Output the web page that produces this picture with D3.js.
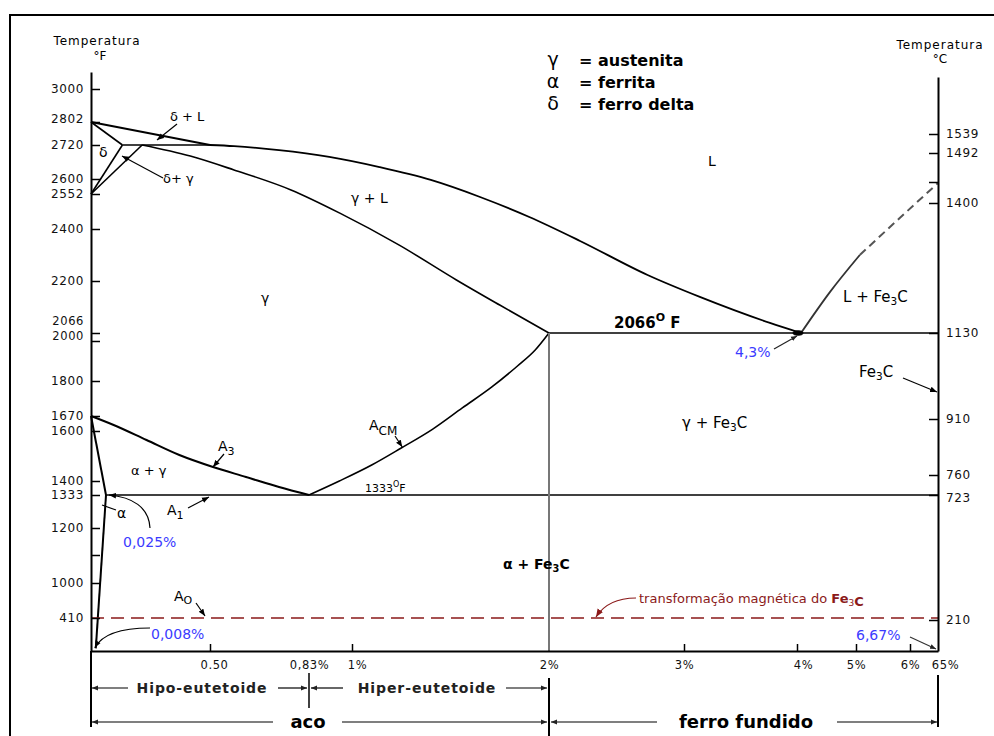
<!DOCTYPE html>
<html>
<head>
<meta charset="utf-8">
<script src="https://cdn.jsdelivr.net/npm/d3@7"></script>
<style>
  body { margin: 0; background: #fff; }
  svg { display: block; }
  text { font-family: "DejaVu Sans", sans-serif; }
</style>
</head>
<body>
<script>
// ---- Fe–Fe3C phase diagram: carbon content (% C) vs temperature (°F) ----

// Axis ticks
const leftTicksF      = [3000, 2802, 2720, 2600, 2552, 2400, 2200, 2066, 2000, 1800, 1670, 1600, 1400, 1333, 1200, 1100, 1000, 410];
const leftTickLabels  = ["3000","2802","2720","2600","2552","2400","2200","2066","2000","1800","1670","1600","1400","1333","1200","","1000","410"];
const rightTicksC     = [1539, 1492, 1440, 1400, 1130, 910, 760, 723, 210];
const rightTickLabels = ["1539","1492","","1400","1130","910","760","723","210"];
const carbonTicks     = [0.5, 0.83, 1, 2, 3, 4, 5, 6, 6.67];
const carbonTickLabels= ["0.50","0,83%","1%","2%","3%","4%","5%","6%","65%"];

// Delta-iron corner
const deltaLiquidusC = [0, 0.5],    deltaLiquidusF = [2802, 2720];
const deltaSolidusC  = [0, 0.1],    deltaSolidusF  = [2802, 2720];
const deltaGammaC    = [0.1, 0],    deltaGammaF    = [2720, 2552];
const gammaDeltaC    = [0.19, 0],   gammaDeltaF    = [2720, 2552];
const peritecticC    = [0.1, 0.5],  peritecticF    = [2720, 2720];

// Liquidus (austenite side) down to the eutectic
const liquidusC = [0.5, 0.58, 0.73, 0.91, 1.14, 1.4, 1.65, 1.9, 2.23, 2.73, 3.14, 3.76, 4.3];
const liquidusF = [2720, 2716, 2702, 2678, 2642, 2597, 2539, 2452, 2354, 2223, 2159, 2092, 2066];

// Solidus of austenite
const solidusC = [0.19, 0.41, 0.58, 0.77, 0.95, 1.24, 1.53, 1.75, 2.0];
const solidusF = [2720, 2681, 2632, 2565, 2470, 2338, 2204, 2138, 2066];

// Liquidus on the cementite side (solid part, then the uncertain dashed part)
const cementiteLiqC = [4.3, 4.67, 5.07],  cementiteLiqF = [2066, 2172, 2300];
const cementiteDashC = [5.07, 5.81, 6.67], cementiteDashF = [2300, 2448, 2587];

// Solid-state transformation lines
const a3C  = [0, 0.06, 0.21, 0.36, 0.51, 0.62, 0.73, 0.83];
const a3F  = [1670, 1628, 1564, 1504, 1456, 1416, 1371, 1333];
const acmC = [0.83, 0.95, 1.1, 1.25, 1.41, 1.56, 1.71, 1.84, 1.93, 2.0];
const acmF = [1333, 1400, 1464, 1532, 1609, 1700, 1778, 1875, 1955, 2066];
const ferriteC = [0, 0.025],      ferriteF = [1670, 1333];
const solvusC  = [0.025, 0.008],  solvusF  = [1333, 32];

// Invariant temperatures
const eutecticF = 2066, eutectoidF = 1333, curieF = 410;
const eutecticC = 4.3, eutectoidC = 0.83, maxCarbonC = 6.67, steelLimitC = 2;

const zip = (a, b) => a.map((v, i) => [v, b[i]]);

// ---- scales (the original diagram uses a stretched, non-uniform grid) ----
const x = d3.scaleLinear()
  .domain([0, 0.025, 0.5, 0.83, 1, 2, 3, 4, 4.3, 5, 6, 6.67])
  .range([91, 106, 210, 309, 352, 549, 684, 797, 801, 856, 910, 938]);

const y = d3.scaleLinear()
  .domain([3100, 3000, 2802, 2720, 2600, 2552, 2400, 2200, 2066, 2000, 1800, 1670, 1600, 1400, 1333, 1200, 1100, 1000, 410, 0])
  .range([72, 89, 122, 145, 179, 194, 229, 281, 333, 341, 381, 416, 431, 481, 495, 528, 555, 583, 618, 651]);

const yC = d3.scaleLinear()
  .domain([1700, 1539, 1492, 1440, 1400, 1130, 910, 760, 723, 210, 0])
  .range([77, 134, 153, 182, 203, 333, 419, 475, 495, 620, 651]);

const svg = d3.select("body").append("svg").attr("width", 994).attr("height", 736);

// frame (runs past the right and bottom edges of the page)
svg.append("rect").attr("x", 10).attr("y", 15).attr("width", 1000).attr("height", 740)
  .attr("fill", "none").attr("stroke", "#000").attr("stroke-width", 2);

// arrow markers
const defs = svg.append("defs");
function marker(id, color, size) {
  defs.append("marker").attr("id", id)
    .attr("viewBox", "0 0 8 8").attr("refX", 8).attr("refY", 4)
    .attr("markerWidth", size).attr("markerHeight", size)
    .attr("markerUnits", "userSpaceOnUse").attr("orient", "auto-start-reverse")
    .append("path").attr("d", "M0,0.8 L8,4 L0,7.2 Z").attr("fill", color);
}
marker("arr", "#000", 7);
marker("arrRed", "#8b1a1a", 8);
marker("arrSmall", "#222", 6);

const BLUE = "#3b3bff", RED = "#8b1a1a";

// ---- phase boundary lines ----
const lin = d3.line().x(d => x(d[0])).y(d => y(d[1]));
const smooth = d3.line().x(d => x(d[0])).y(d => y(d[1])).curve(d3.curveMonotoneX);

const g = svg.append("g").attr("fill", "none").attr("stroke", "#000").attr("stroke-linejoin", "round");

function path(gen, pts, w, extra) {
  const p = g.append("path").attr("d", gen(pts)).attr("stroke-width", w);
  if (extra) extra(p);
  return p;
}

path(lin, zip(deltaLiquidusC, deltaLiquidusF), 1.8);
path(lin, zip(deltaSolidusC, deltaSolidusF), 1.6);
path(lin, zip(deltaGammaC, deltaGammaF), 1.6);
path(lin, zip(gammaDeltaC, gammaDeltaF), 1.6);
path(lin, zip(peritecticC, peritecticF), 1.6);
path(smooth, zip(liquidusC, liquidusF), 1.8);
path(smooth, zip(solidusC, solidusF), 1.6);
path(smooth, zip(cementiteLiqC, cementiteLiqF), 1.8, p => p.attr("stroke", "#333"));
path(lin, zip(cementiteDashC, cementiteDashF), 2, p => p.attr("stroke", "#555").attr("stroke-dasharray", "8,5"));
path(smooth, zip(a3C, a3F), 2);
path(smooth, zip(acmC, acmF), 1.6);
path(lin, zip(ferriteC, ferriteF), 2);
path(lin, zip(solvusC, solvusF), 2);

// eutectic and eutectoid isotherms, 2 % C divider
path(lin, [[steelLimitC, eutecticF], [maxCarbonC, eutecticF]], 1.5);
path(lin, [[0.025, eutectoidF], [maxCarbonC, eutectoidF]], 1.5);
path(lin, [[steelLimitC, eutecticF], [steelLimitC, 0]], 2, p => p.attr("stroke", "#777"));
// eutectic point
g.append("ellipse").attr("cx", x(eutecticC) - 3).attr("cy", y(eutecticF)).attr("rx", 5).attr("ry", 2.2).attr("fill", "#000");

// magnetic transformation of Fe3C
path(lin, [[0, curieF], [maxCarbonC, curieF]], 1.6, p => p.attr("stroke", RED).attr("stroke-dasharray", "13,7"));

// ---- axes ----
const tickFont = sel => sel.selectAll("text")
  .attr("font-family", "'DejaVu Sans', sans-serif").attr("font-size", 12).attr("letter-spacing", 0.6).attr("fill", "#111");

const leftOffsets = { 2802: -3, 2066: -12, 2000: -5 };
const gL = svg.append("g").attr("transform", `translate(${x(0)},0)`)
  .call(d3.axisLeft(y).tickValues(leftTicksF).tickFormat((d, i) => leftTickLabels[i])
        .tickSize(-9).tickSizeOuter(0).tickPadding(7));
gL.call(tickFont);
gL.selectAll("text").attr("y", d => leftOffsets[d] || 0);
gL.selectAll("text").filter(d => d === 2066 || d === 2000).attr("font-size", 11.5);
gL.select(".domain").attr("stroke-width", 2);
gL.selectAll(".tick line").attr("stroke-width", 1.5);

const rightOffsets = { 723: 3 };
const gR = svg.append("g").attr("transform", `translate(${x(maxCarbonC)},0)`)
  .call(d3.axisRight(yC).tickValues(rightTicksC).tickFormat((d, i) => rightTickLabels[i])
        .tickSize(-9).tickSizeOuter(0).tickPadding(8));
gR.call(tickFont);
gR.selectAll("text").attr("y", d => rightOffsets[d] || 0);
gR.select(".domain").attr("stroke-width", 2);
gR.selectAll(".tick line").attr("stroke-width", 1.5);

const bottomOffsets = { 0.5: 4, 1: 5, 4: 6, 6.67: 7 };
const gB = svg.append("g").attr("transform", `translate(0,${y(0)})`)
  .call(d3.axisBottom(x).tickValues(carbonTicks).tickFormat((d, i) => carbonTickLabels[i])
        .tickSize(-7).tickSizeOuter(0).tickPadding(10));
gB.call(tickFont);
gB.selectAll("text").attr("x", d => bottomOffsets[d] || 0).attr("font-size", 11.5);
gB.select(".domain").attr("stroke-width", 2);
gB.selectAll(".tick line").attr("stroke-width", 1.5)
  .filter(d => d === eutectoidC || d === steelLimitC || d === maxCarbonC).remove();

// text helper: plain strings or {t, sub, fs, bold, after} parts
function label(txt, xx, yy, opts = {}) {
  const t = svg.append("text").attr("x", xx).attr("y", yy)
    .attr("font-size", opts.size || 13).attr("fill", opts.color || "#000")
    .attr("text-anchor", opts.anchor || "start");
  if (opts.weight) t.attr("font-weight", opts.weight);
  if (opts.spacing) t.attr("letter-spacing", opts.spacing);
  (Array.isArray(txt) ? txt : [txt]).forEach(part => {
    if (typeof part === "string") { t.append("tspan").text(part); return; }
    const s = t.append("tspan").text(part.t);
    if (part.sub) s.attr("dy", part.sub).attr("font-size", part.fs || (opts.size || 13) * 0.7);
    if (part.bold) s.attr("font-weight", "bold");
    if (part.after !== undefined) t.append("tspan").attr("dy", -part.sub).text(part.after);
  });
  return t;
}
const fe3c = (prefix, fs, after = "C") => [prefix + "Fe", { t: "3", sub: 3, fs: fs * 0.7, after }];

// axis titles
label("Temperatura", 97, 45, { size: 12, anchor: "middle", spacing: 1 });
label("°F", 100, 60, { size: 12, anchor: "middle" });
label("Temperatura", 940, 49, { size: 12, anchor: "middle", spacing: 1 });
label("°C", 940, 63, { size: 12, anchor: "middle" });

// legend
const legendRows = [["γ", "= austenita", 66], ["α", "= ferrita", 88], ["δ", "= ferro delta", 110]];
legendRows.forEach(r => {
  label(r[0], 553, r[2], { size: 19, anchor: "middle" });
  label(r[1], 579, r[2], { size: 16, weight: "bold" });
});

// ---- phase field labels ----
label("δ + L", 170, 121, { size: 13 });
label("δ", 99, 157, { size: 14 });
label("δ+ γ", 163, 183, { size: 13 });
label("L", 708, 166, { size: 14 });
label("γ + L", 351, 203, { size: 14 });
label("γ", 261, 303, { size: 14 });
label(["2066", { t: "O", sub: -7, fs: 11, after: " F" }], 614, 328, { size: 15, weight: "bold" });
label("4,3%", 735, 357, { size: 14, color: BLUE });
label(fe3c("L + ", 15), 843, 302, { size: 15 });
label(fe3c("", 15), 859, 377, { size: 15 });
label(fe3c("γ + ", 15), 682, 428, { size: 15 });
label(["A", { t: "CM", sub: 5, fs: 12, after: "" }], 369, 430, { size: 14 });
label(["1333", { t: "O", sub: -5, fs: 8, after: "F" }], 365, 492, { size: 11 });
label("α + γ", 131, 475, { size: 13 });
label(["A", { t: "3", sub: 4, fs: 11, after: "" }], 218, 451, { size: 14 });
label(["A", { t: "1", sub: 4, fs: 11, after: "" }], 167, 515, { size: 14 });
label("α", 117, 518, { size: 14 });
label("0,025%", 123, 547, { size: 14, color: BLUE });
label(["A", { t: "O", sub: 3, fs: 11, after: "" }], 174, 601, { size: 14 });
label("0,008%", 151, 639, { size: 14, color: BLUE });
label(["transformação magnética do ", { t: "Fe", bold: true }, { t: "3", sub: 3, fs: 9, after: "" }, { t: "C", bold: true }],
      639, 603, { size: 13, color: RED });
label(fe3c("α + ", 14), 503, 569, { size: 14, weight: 600 });
label("6,67%", 856, 640, { size: 14, color: BLUE });

// ---- leader arrows ----
const la = svg.append("g").attr("fill", "none").attr("stroke", "#000").attr("stroke-width", 1.2);
function leader(d, color, mk) {
  la.append("path").attr("d", d).attr("stroke", color || "#000")
    .attr("marker-end", mk === null ? null : `url(#${mk || "arr"})`);
}
leader("M177,124 L157,140");
leader("M163,178 L122,156");
leader("M224,454 L213,467");
leader(`M395,436 L${x(1.25) + 1},${y(1532) - 1}`);
leader(`M188,508 L${x(0.5) - 1},${y(eutectoidF) + 2}`);
leader("M116,510 L102,505", null, null);
leader(`M150,528 C149,507 132,497 ${x(0.025) + 3},${y(eutectoidF)}`);
leader(`M196,603 L205,${y(curieF) - 2}`);
leader(`M150,628 C116,628 101,636 ${x(0.008) - 1},${y(40)}`);
leader(`M636,598 C614,598 603,606 596,${y(curieF) - 1}`, RED, "arrRed");
leader(`M774,349 L${x(eutecticC) - 4},${y(eutecticF) + 3}`, "#222", "arrSmall");
leader(`M903,378 L${x(maxCarbonC) - 1},392`);
leader(`M910,637 L${x(maxCarbonC) - 2},${y(0) - 2}`, "#333", "arrSmall");

// ---- steel / cast iron ranges under the axis ----
const b = svg.append("g").attr("stroke", "#000").attr("fill", "none");
const vline = (xx, y0, y1, w = 2) => b.append("line").attr("x1", xx).attr("x2", xx).attr("y1", y0).attr("y2", y1).attr("stroke-width", w);
vline(x(0), y(0), 727);
vline(x(eutectoidC), 673, 708, 1.5);
vline(x(steelLimitC), 678, 736);
vline(x(maxCarbonC), 675, 727);

function span(x0, x1, yy, arrowStart, arrowEnd) {
  b.append("line").attr("x1", x0).attr("x2", x1).attr("y1", yy).attr("y2", yy)
    .attr("stroke-width", 1.2)
    .attr("marker-start", arrowStart ? "url(#arrSmall)" : null)
    .attr("marker-end", arrowEnd ? "url(#arrSmall)" : null);
}
// row 1: hypo / hyper-eutectoid
span(x(0) + 1, 128, 688, true, false);
span(278, x(eutectoidC) - 2, 688, false, true);
span(x(eutectoidC) + 2, 343, 688, true, false);
span(506, x(steelLimitC) - 2, 688, false, true);
label("Hipo-eutetoide", 202, 693, { size: 14, weight: "bold", anchor: "middle", spacing: 0.9, color: "#222" });
label("Hiper-eutetoide", 427, 693, { size: 14, weight: "bold", anchor: "middle", spacing: 0.9, color: "#222" });

// row 2: steel / cast iron
span(x(0) + 1, 273, 722, true, false);
span(342, x(steelLimitC) - 2, 722, false, true);
span(x(steelLimitC) + 2, 657, 722, true, false);
span(837, x(maxCarbonC) - 1, 722, false, true);
label("aco", 308, 728, { size: 18, weight: "bold", anchor: "middle" });
label("ferro fundido", 746, 728, { size: 18, weight: "bold", anchor: "middle" });
</script>
</body>
</html>
